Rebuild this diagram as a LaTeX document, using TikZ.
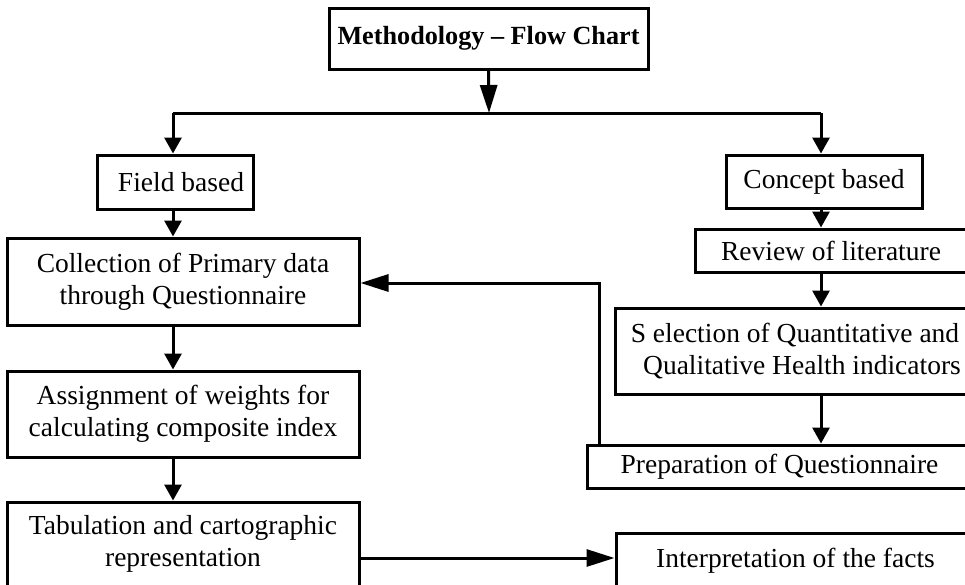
\documentclass[tikz,border=0pt]{standalone}
\usepackage{fontspec}
\setmainfont{Liberation Serif}
\usetikzlibrary{arrows.meta}
\begin{document}
\begin{tikzpicture}[x=1pt,y=-1pt,
  box/.style={draw, line width=3pt, rectangle, inner sep=0pt, align=center,
    font=\fontsize{27.5}{32}\selectfont},
  conn/.style={line width=3pt},
  arr/.style={conn, -{Triangle[length=16pt,width=17pt]}},
  larr/.style={conn, -{Triangle[length=28pt,width=17pt]}}]
\clip (0,0) rectangle (965,584);
\fill[white] (0,0) rectangle (965,584);
% nodes
\node[box, minimum width=319pt, minimum height=61pt, font=\fontsize{26.2}{32}\selectfont\bfseries] (title) at (488.5,38.5) {Methodology -- Flow Chart};
\node[box, minimum width=156pt, minimum height=54pt] (field) at (175,182) {\hspace*{12pt}Field based};
\node[box, minimum width=196pt, minimum height=53pt] (concept) at (824,181.5) {Concept based};
\node[box, minimum width=352pt, minimum height=87pt] (collection) at (183,281.5) {Collection of Primary data\\through Questionnaire};
\node[box, minimum width=280pt, minimum height=43pt] (review) at (835,250.5) {\hspace*{-8pt}Review of literature};
\node[box, minimum width=360pt, minimum height=86pt] (selection) at (795,351) {S election of Quantitative and\\\hspace*{14pt}Qualitative Health indicators};
\node[box, minimum width=352pt, minimum height=86pt] (assign) at (183,414) {Assignment of weights for\\calculating composite index};
\node[box, minimum width=385pt, minimum height=43pt] (prep) at (779.5,466.5) {Preparation of Questionnaire};
\node[box, minimum width=352pt, minimum height=84pt] (tab) at (183,544) {Tabulation and cartographic\\representation};
\node[box, minimum width=359pt, minimum height=56pt] (interp) at (795.5,561) {Interpretation of the facts};
% coordinates
\coordinate (split) at (489,113);
\coordinate (lft) at (173,113);
\coordinate (rgt) at (821,113);
\coordinate (fb) at (599,283);
\coordinate (ta) at (0,558);
% connectors
\draw[larr] (title.south) -- (split);
\draw[conn] (lft) -- (rgt);
\draw[arr] (lft) -- (field.north -| lft);
\draw[arr] (rgt) -- (concept.north -| rgt);
\draw[arr] (field.south -| lft) -- (collection.north -| lft);
\draw[arr] (concept.south -| rgt) -- (review.north -| rgt);
\draw[arr] (review.south -| rgt) -- (selection.north -| rgt);
\draw[arr] (selection.south -| rgt) -- (prep.north -| rgt);
\draw[larr] (prep.north -| fb) -- (fb) -- (collection.east |- fb);
\draw[arr] (collection.south -| lft) -- (assign.north -| lft);
\draw[arr] (assign.south -| lft) -- (tab.north -| lft);
\draw[larr] (tab.east |- ta) -- (interp.west |- ta);
\end{tikzpicture}
\end{document}
